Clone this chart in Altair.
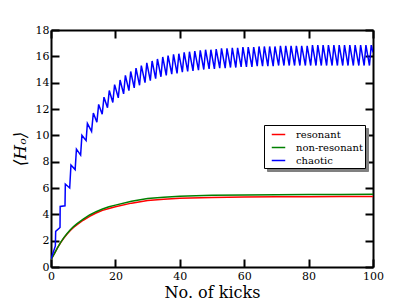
import altair as alt
import pandas as pd

# smooth curves
smooth_x = [0, 1, 2, 3, 4, 5, 6, 7, 8, 10, 12, 14, 16, 18, 20, 25, 30, 35, 40, 50, 60, 70, 80, 90, 100]
resonant_y = [0.55, 1.0, 1.45, 1.85, 2.2, 2.5, 2.77, 3.0, 3.2, 3.55, 3.85, 4.1, 4.3, 4.45, 4.58,
              4.85, 5.05, 5.15, 5.22, 5.28, 5.31, 5.33, 5.34, 5.35, 5.36]
nonresonant_y = [0.55, 1.0, 1.45, 1.87, 2.23, 2.55, 2.83, 3.07, 3.28, 3.63, 3.95, 4.2, 4.4, 4.57, 4.7,
                 5.0, 5.2, 5.3, 5.37, 5.44, 5.47, 5.49, 5.5, 5.51, 5.52]

# chaotic zig-zag
chaotic_x = [0, 1.35, 1.45, 2.8, 2.85, 4.35, 4.45, 5.8, 6.2, 7.5, 7.9, 9.2, 9.6, 10.9, 11.3,
             12.6, 13.15, 14.25, 14.8, 15.9, 16.45, 17.55, 18.1, 19.2, 19.75,
             20.9, 21.45, 22.55, 23.1, 24.2, 24.75, 25.85, 26.4, 27.5, 28.05,
             29.2, 29.75, 30.85, 31.4, 32.5, 33.05, 34.15, 34.7, 35.8, 36.35,
             37.5, 38.05, 39.15, 39.7, 40.8, 41.35, 42.45, 43.0, 44.1, 44.65,
             45.8, 46.35, 47.45, 48.0, 49.1, 49.65, 50.75, 51.3, 52.4, 52.95,
             54.1, 54.65, 55.75, 56.3, 57.4, 57.95, 59.05, 59.6, 60.7, 61.25,
             62.4, 62.95, 64.05, 64.6, 65.7, 66.25, 67.35, 67.9, 69.0, 69.55,
             70.7, 71.25, 72.35, 72.9, 74.0, 74.55, 75.65, 76.2, 77.3, 77.85,
             79.0, 79.55, 80.65, 81.2, 82.3, 82.85, 83.95, 84.5, 85.6, 86.15,
             87.3, 87.85, 88.95, 89.5, 90.6, 91.15, 92.25, 92.8, 93.9, 94.45,
             95.6, 96.15, 97.25, 97.8, 98.9, 99.45, 100]
chaotic_y = [0.6, 1.6, 2.7, 3.0, 4.6, 4.65, 6.3, 6.0, 7.75, 7.4, 8.95, 8.5, 10.0, 9.6, 10.9,
             10.3, 11.7, 11.0, 12.35, 11.6, 12.9, 12.1, 13.4, 12.5, 13.85,
             12.85, 14.2, 13.15, 14.55, 13.4, 14.85, 13.6, 15.1, 13.8, 15.3,
             14.0, 15.5, 14.15, 15.65, 14.3, 15.8, 14.45, 15.95, 14.55, 16.05,
             14.65, 16.15, 14.7, 16.2, 14.8, 16.3, 14.85, 16.35, 14.9, 16.4,
             14.95, 16.45, 15.0, 16.5, 15.05, 16.5, 15.05, 16.55, 15.1, 16.6,
             15.1, 16.6, 15.15, 16.65, 15.15, 16.65, 15.2, 16.7, 15.2, 16.7,
             15.2, 16.7, 15.25, 16.75, 15.25, 16.75, 15.25, 16.75, 15.25, 16.75,
             15.3, 16.8, 15.3, 16.8, 15.3, 16.8, 15.3, 16.8, 15.3, 16.8,
             15.3, 16.8, 15.3, 16.85, 15.3, 16.85, 15.3, 16.85, 15.3, 16.85,
             15.3, 16.85, 15.3, 16.85, 15.3, 16.85, 15.3, 16.85, 15.3, 16.85,
             15.3, 16.85, 15.3, 16.85, 15.3, 16.85, 16.3]

series_names = ["resonant", "non-resonant", "chaotic"]
series_colors = ["#ff0000", "#008000", "#0000ff"]
x_ticks = [0, 20, 40, 60, 80, 100]
y_ticks = [0, 2, 4, 6, 8, 10, 12, 14, 16, 18]

rows = []
for i, (x, y) in enumerate(zip(smooth_x, resonant_y)):
    rows.append({"x": x, "y": y, "s": "resonant", "i": i})
for i, (x, y) in enumerate(zip(smooth_x, nonresonant_y)):
    rows.append({"x": x, "y": y, "s": "non-resonant", "i": i})
for i, (x, y) in enumerate(zip(chaotic_x, chaotic_y)):
    rows.append({"x": x, "y": y, "s": "chaotic", "i": i})
df = pd.DataFrame(rows)
df["s2"] = df["s"]

FONT = "DejaVu Serif"

common_axis = dict(domain=False, grid=False, ticks=True, tickSize=8, tickWidth=2,
                   tickColor="black", offset=-8, labelFont=FONT, labelFontSize=11,
                   labelColor="black", labelFlush=False, titleFont=FONT, titleColor="black",
                   titleFontWeight="normal")
frame_axis = dict(domain=True, domainColor="black", domainWidth=2, ticks=False, labels=False,
                  grid=False, title=None, offset=0)

xs = alt.Scale(domain=[0, 100], nice=False, zero=False)
ys = alt.Scale(domain=[0, 18], nice=False, zero=False)

legend_common = dict(title=None, orient="none", symbolType="stroke", symbolStrokeWidth=1.5,
                     symbolSize=182, symbolOffset=5, labelFont=FONT, labelFontSize=10,
                     rowPadding=0, padding=2)

main = alt.Chart(df).mark_line(strokeWidth=1.5, clip=True).encode(
    x=alt.X("x:Q", scale=xs, axis=alt.Axis(orient="bottom", values=x_ticks, title="No. of kicks",
                                           titleFontSize=16, labelPadding=3, titlePadding=3,
                                           **common_axis)),
    y=alt.Y("y:Q", scale=ys, axis=alt.Axis(orient="left", values=y_ticks, title="⟨Hₒ⟩",
                                           titleFontSize=17, titleFontStyle="italic",
                                           labelPadding=2, titlePadding=6, **common_axis)),
    color=alt.Color("s:N", scale=alt.Scale(domain=series_names, range=series_colors),
                    legend=alt.Legend(legendX=213, legendY=95, labelColor="black",
                                      labelOffset=10, strokeColor="black", fillColor="white",
                                      zindex=2, **legend_common)),
    order=alt.Order("i:Q"),
)

mirror = alt.Chart(df).mark_line(opacity=0).encode(
    x=alt.X("x:Q", scale=xs, axis=alt.Axis(orient="top", values=x_ticks, title=None,
                                           labels=False, **common_axis)),
    y=alt.Y("y:Q", scale=ys, axis=alt.Axis(orient="right", values=y_ticks, title=None,
                                           labels=False, **common_axis)),
    detail="s:N",
)

frame_a = alt.Chart(df).mark_line(opacity=0).encode(
    x=alt.X("x:Q", scale=xs, axis=alt.Axis(orient="bottom", **frame_axis)),
    y=alt.Y("y:Q", scale=ys, axis=alt.Axis(orient="left", **frame_axis)),
    strokeDash=alt.StrokeDash("s2:N", scale=alt.Scale(domain=series_names),
                              legend=alt.Legend(legendX=216, legendY=98, labelExpr="''",
                                                labelOffset=77, symbolOpacity=0,
                                                strokeColor="#808080", fillColor="#808080",
                                                zindex=1, **legend_common)),
)

frame_b = alt.Chart(df).mark_line(opacity=0).encode(
    x=alt.X("x:Q", scale=xs, axis=alt.Axis(orient="top", **frame_axis)),
    y=alt.Y("y:Q", scale=ys, axis=alt.Axis(orient="right", **frame_axis)),
    detail="s:N",
)

chart = alt.layer(main, mirror, frame_a, frame_b).resolve_axis(
    x="independent", y="independent"
).resolve_legend(color="independent", strokeDash="independent").properties(
    width=322, height=237, padding={"left": 3, "top": 16, "right": 5, "bottom": 0},
).configure_view(stroke=None).configure(background="white")

chart.save("out.html", embed_options={"renderer": "svg", "actions": False})
